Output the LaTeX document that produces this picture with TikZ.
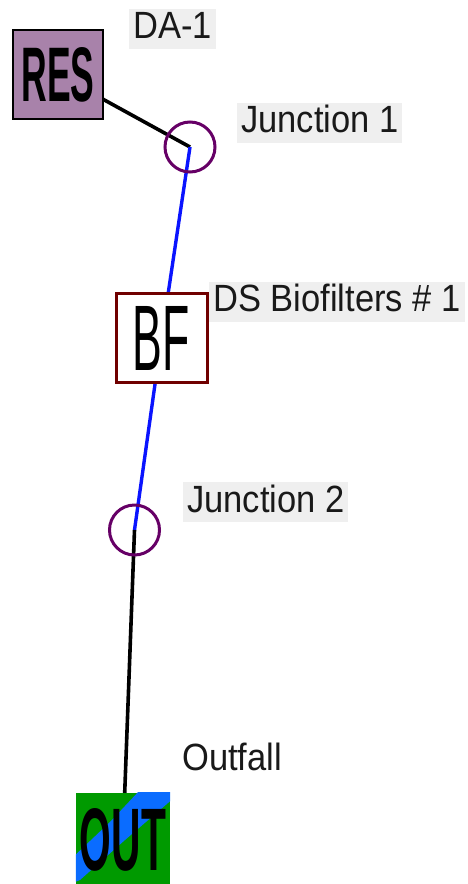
\documentclass[tikz,border=0pt]{standalone}
\usepackage{fontspec}
\setmainfont{Liberation Sans}
\usetikzlibrary{backgrounds}
\definecolor{respurple}{HTML}{A882AA}
\definecolor{junctionpurple}{HTML}{660066}
\definecolor{bfred}{HTML}{700000}
\definecolor{outgreen}{HTML}{009A00}
\definecolor{outblue}{HTML}{0A6CFF}
\definecolor{labelgray}{HTML}{EFEFEF}
\definecolor{linkblue}{HTML}{0A14FF}
% labels are set slightly taller than wide
\newcommand\tallname[1]{\scalebox{1}[1.1]{#1}}
\tikzset{
  lbl/.style={anchor=west, fill=labelgray, inner xsep=4pt, inner ysep=3pt,
    text height=27pt, text depth=7pt, font=\fontsize{34.5}{40}\selectfont, text=black!90},
  plainlbl/.style={lbl, fill=none},
  junction/.style={circle, draw=junctionpurple, line width=3pt, minimum size=50pt, inner sep=0pt},
  reservoir/.style={draw=black, line width=1.6pt, fill=respurple, minimum width=90pt, minimum height=89pt, inner sep=0pt},
  biofilter/.style={draw=bfred, line width=3pt, fill=white, minimum width=91pt, minimum height=89pt, inner sep=0pt},
  outfall/.style={fill=outgreen, minimum width=94pt, minimum height=91pt, inner sep=0pt},
  blacklink/.style={draw=black, line width=3.6pt},
  bluelink/.style={draw=linkblue, line width=3.4pt},
}
\begin{document}
\begin{tikzpicture}[x=1pt,y=-1pt]
\useasboundingbox (0,0) rectangle (467,884);

% catchment / reservoir
\node[reservoir] (res) at (58,74.5) {\resizebox{73pt}{54pt}{\textbf{RES}}};
\node[lbl] (resl) at (129,28.5) {\tallname{DA-1}};

% junctions
\node[junction] (j1) at (190,147) {};
\node[lbl] (j1l) at (237,122.5) {\tallname{Junction 1}};
\node[junction] (j2) at (134.5,530) {};
\node[lbl] (j2l) at (183,502) {\tallname{Junction 2}};

% biofilter
\node[biofilter] (bf) at (161.5,338) {\resizebox{57pt}{64pt}{BF}};
\node[lbl] (bfl) at (209,301.5) {\tallname{DS Biofilters \# 1}};

% outfall, with its blue streak
\node[outfall] (out) at (123,838.5) {};
\begin{scope}
  \clip (out.south west) rectangle (out.north east);
  \fill[outblue] (140,790) -- (175,790) -- (175,797) -- (125,840) -- (80,880) -- (70,884) -- (70,860) -- (110,822) -- cycle;
\end{scope}
\node (outt) at ([yshift=-1pt]out.center) {\resizebox{86pt}{62pt}{\textbf{OUT}}};
\node[plainlbl] (outl) at (178,760) {\tallname{Outfall}};

% links, drawn behind the nodes
\begin{scope}[on background layer]
  \draw[blacklink] (res.center) -- (j1.center);
  \draw[bluelink] (j1.center) -- (bf.center);
  \draw[bluelink] (bf.center) -- (j2.center);
  \draw[blacklink] (j2.center) -- (out.center);
\end{scope}
\end{tikzpicture}
\end{document}
